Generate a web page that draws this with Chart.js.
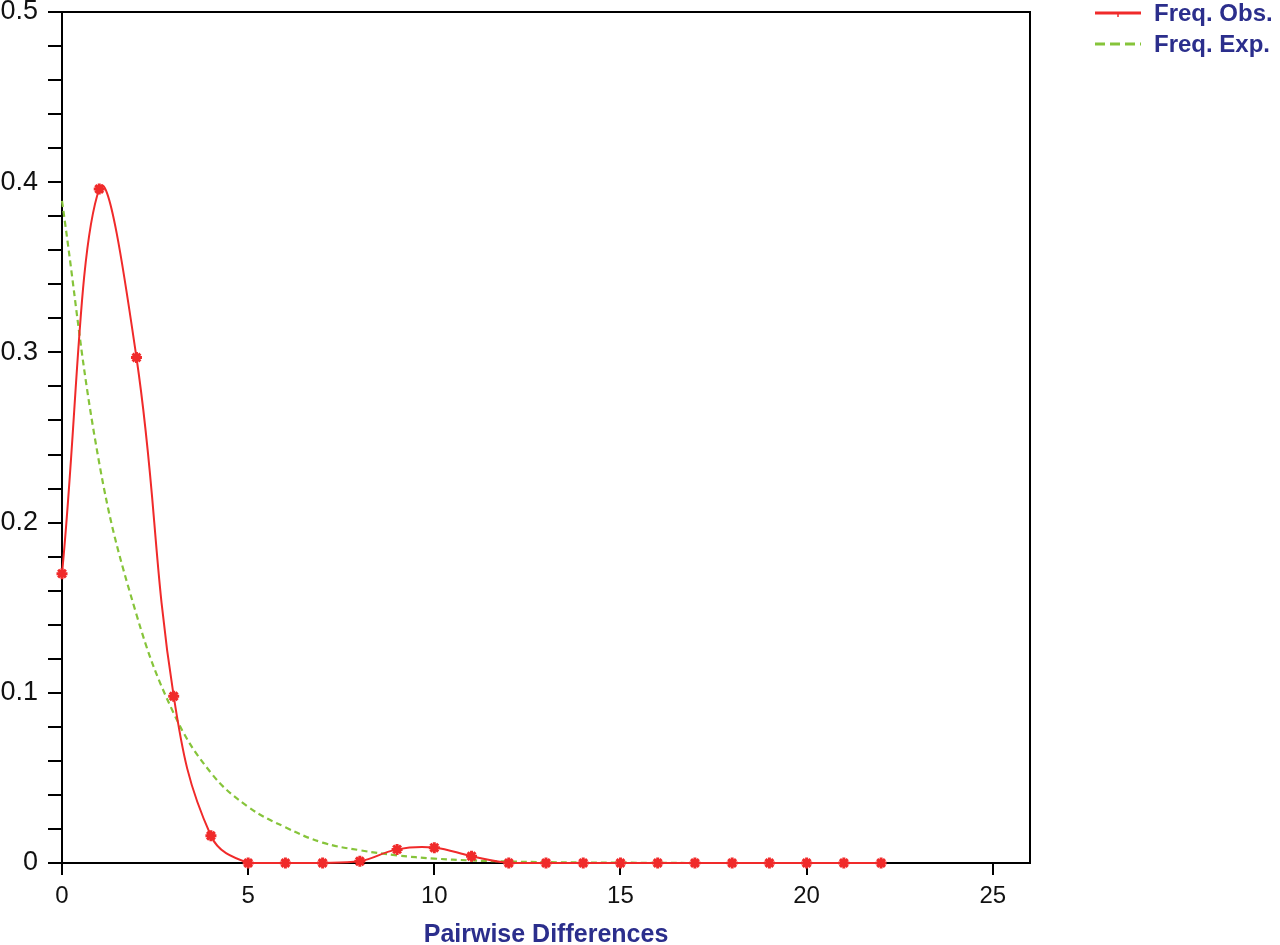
<!DOCTYPE html>
<html>
<head>
<meta charset="utf-8">
<script src="https://cdn.jsdelivr.net/npm/chart.js@4"></script>
<style>
  html, body { margin: 0; padding: 0; background: #fff; }
  #wrap { width: 1280px; height: 945px; position: relative; }
</style>
</head>
<body>
<div id="wrap"><canvas id="chart"></canvas></div>
<script>
// Pairwise differences (x) and frequencies
const diffs = [0, 1, 2, 3, 4, 5, 6, 7, 8, 9, 10, 11, 12, 13, 14, 15, 16, 17, 18, 19, 20, 21, 22];
const freqObs = [0.170, 0.396, 0.297, 0.098, 0.016, 0, 0, 0, 0.001, 0.008, 0.009, 0.004, 0, 0, 0, 0, 0, 0, 0, 0, 0, 0, 0];
const freqExp = [0.389, 0.235, 0.146, 0.088, 0.053, 0.033, 0.021, 0.012, 0.0075, 0.0045, 0.0026, 0.0015, 0.0009, 0.0005, 0.0003, 0.0002, 0.0001, 0, 0, 0, 0, 0, 0];
const xTickValues = [0, 5, 10, 15, 20, 25];
const yTickValues = [0, 0.02, 0.04, 0.06, 0.08, 0.1, 0.12, 0.14, 0.16, 0.18, 0.2, 0.22, 0.24, 0.26, 0.28, 0.3,
                     0.32, 0.34, 0.36, 0.38, 0.4, 0.42, 0.44, 0.46, 0.48, 0.5];
const seriesNames = ['Freq. Obs.', 'Freq. Exp.'];

const RED = '#f02a2a';
const GREEN = '#86c43a';
const NAVY = '#2b2e8c';
const FONT = '"Liberation Sans", Arial, sans-serif';

function toPoints(ys) {
    return diffs.map(function (x, i) { return { x: x, y: ys[i] }; });
}

// Frame on top and right of the plot area
const framePlugin = {
    id: 'frame',
    afterDatasetsDraw: function (chart) {
        const a = chart.chartArea;
        const ctx = chart.ctx;
        ctx.save();
        ctx.strokeStyle = '#000';
        ctx.lineWidth = 2;
        ctx.beginPath();
        ctx.moveTo(a.left, a.top);
        ctx.lineTo(a.right, a.top);
        ctx.lineTo(a.right, a.bottom);
        ctx.stroke();
        ctx.restore();
    }
};

// Legend drawn to the right of the frame
const legendPlugin = {
    id: 'sideLegend',
    afterDraw: function (chart) {
        const ctx = chart.ctx;
        const x0 = 1095, x1 = 1141;
        const rows = [13, 44];
        ctx.save();
        chart.data.datasets.forEach(function (ds, i) {
            const y = rows[i];
            ctx.strokeStyle = ds.borderColor;
            ctx.lineWidth = 3;
            ctx.setLineDash(i === 1 ? [10, 5] : []);
            ctx.beginPath();
            ctx.moveTo(x0, y);
            ctx.lineTo(x1, y);
            ctx.stroke();
            ctx.setLineDash([]);
            if (ds.pointRadius > 0) {
                ctx.lineWidth = 1.5;
                ctx.beginPath();
                ctx.moveTo((x0 + x1) / 2, y);
                ctx.lineTo((x0 + x1) / 2, y + 4);
                ctx.stroke();
            }
            ctx.fillStyle = NAVY;
            ctx.font = 'bold 24px ' + FONT;
            ctx.textBaseline = 'middle';
            ctx.textAlign = 'left';
            ctx.fillText(seriesNames[i], 1154, y + 1);
        });
        ctx.restore();
    }
};

new Chart(document.getElementById('chart').getContext('2d'), {
    type: 'line',
    data: {
        datasets: [{
            label: seriesNames[0],
            data: toPoints(freqObs),
            borderColor: RED,
            backgroundColor: RED,
            borderWidth: 2,
            tension: 0.4,
            pointStyle: 'star',
            pointRadius: 5.5,
            pointBorderWidth: 3,
            pointBorderColor: RED,
            clip: false
        }, {
            label: seriesNames[1],
            data: toPoints(freqExp),
            borderColor: GREEN,
            backgroundColor: GREEN,
            borderWidth: 2.2,
            borderDash: [6, 4],
            tension: 0.4,
            pointRadius: 0,
            clip: false
        }]
    },
    options: {
        responsive: true,
        maintainAspectRatio: false,
        animation: false,
        layout: {
            padding: { left: 0, right: 250, top: 0, bottom: 0 }
        },
        plugins: {
            legend: { display: false },
            tooltip: { enabled: false }
        },
        scales: {
            x: {
                type: 'linear',
                min: 0,
                max: 26,
                afterBuildTicks: function (scale) {
                    scale.ticks = xTickValues.map(function (v) { return { value: v }; });
                },
                afterFit: function (scale) {
                    scale.height = 82;
                    scale.paddingLeft = 0;
                    scale.paddingRight = 0;
                },
                grid: {
                    drawOnChartArea: false,
                    drawTicks: true,
                    tickLength: 12,
                    color: '#000',
                    lineWidth: 2
                },
                border: { display: true, color: '#000', width: 2 },
                ticks: {
                    color: '#111',
                    padding: 7,
                    maxRotation: 0,
                    autoSkip: false,
                    font: { family: FONT, size: 24 }
                },
                title: {
                    display: true,
                    text: 'Pairwise Differences',
                    color: NAVY,
                    padding: { top: 0, bottom: -3 },
                    font: { family: FONT, size: 25, weight: 'bold', lineHeight: 1.0 }
                }
            },
            y: {
                min: 0,
                max: 0.5,
                afterBuildTicks: function (scale) {
                    scale.ticks = yTickValues.map(function (v) { return { value: v }; });
                },
                afterFit: function (scale) {
                    scale.width = 62;
                    scale.paddingTop = 12;
                    scale.paddingBottom = 0;
                },
                grid: {
                    drawOnChartArea: false,
                    drawTicks: true,
                    tickLength: 14,
                    color: '#000',
                    lineWidth: 2
                },
                border: { display: true, color: '#000', width: 2 },
                ticks: {
                    color: '#111',
                    padding: 10,
                    autoSkip: false,
                    font: { family: FONT, size: 27 },
                    callback: function (value) {
                        const r = Math.round(value * 100);
                        if (r % 10 !== 0) return '';
                        return r === 0 ? '0' : (r / 100).toFixed(1);
                    }
                }
            }
        }
    },
    plugins: [framePlugin, legendPlugin]
});
</script>
</body>
</html>
